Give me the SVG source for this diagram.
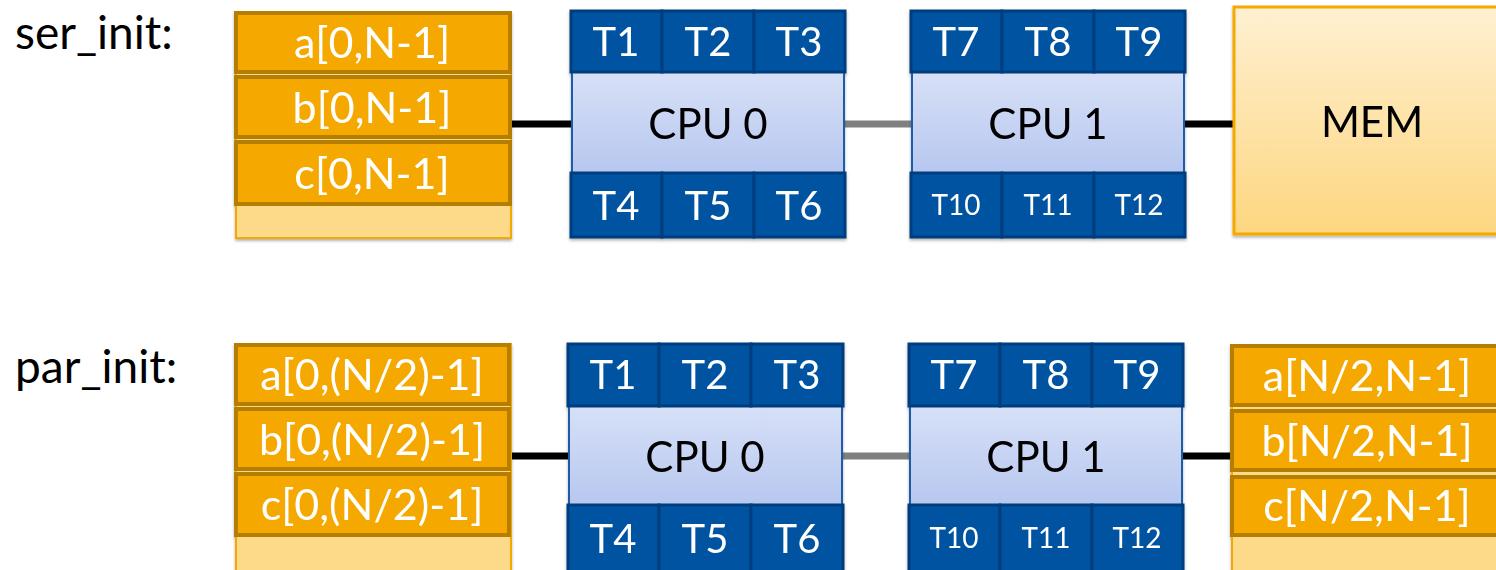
<svg xmlns="http://www.w3.org/2000/svg" width="1496" height="570" viewBox="0 0 1496 570">
<defs>
<linearGradient id="gCpu" x1="0" y1="0" x2="0" y2="1">
<stop offset="0" stop-color="#D7E0F7"/>
<stop offset="1" stop-color="#B7C7EF"/>
</linearGradient>
<linearGradient id="gMem" x1="0" y1="0" x2="0" y2="1">
<stop offset="0" stop-color="#FFF0D2"/>
<stop offset="1" stop-color="#FDD680"/>
</linearGradient>
<filter id="sh" x="-10%" y="-10%" width="120%" height="130%">
<feDropShadow dx="0" dy="2" stdDeviation="1.5" flood-color="#000" flood-opacity="0.3"/>
</filter>
</defs>
<style>
.lbl{font-family:Lato,"Liberation Sans",sans-serif;font-size:46px;fill:#000}
.th{fill:#0153A0;stroke:#003E7E;stroke-width:3}
.tt{font-family:Lato,"Liberation Sans",sans-serif;font-size:40px;fill:#fff;text-anchor:middle}
.ts{font-family:Lato,"Liberation Sans",sans-serif;font-size:28px;fill:#fff;text-anchor:middle}
.body{fill:url(#gCpu);stroke:#1F5BA8;stroke-width:2}
.ct{font-family:Lato,"Liberation Sans",sans-serif;font-size:42px;fill:#000;text-anchor:middle}
.mback{fill:#FDD98A;stroke:#F5A800;stroke-width:2}
.arr{fill:#F5A800;stroke:#B57E00;stroke-width:4}
.at{font-family:Lato,"Liberation Sans",sans-serif;font-size:43px;fill:#fff;text-anchor:middle}
.mem{fill:url(#gMem);stroke:#F5A800;stroke-width:3}
.bl{stroke:#000;stroke-width:7}
.gr{stroke:#808080;stroke-width:7}
</style>

<text class="lbl" x="15" y="49">ser_init:</text>
<text class="lbl" x="15" y="383">par_init:</text>

<g id="connectors">
<line class="bl" x1="511" y1="124" x2="572" y2="124"/>
<line class="gr" x1="845" y1="124" x2="911" y2="124"/>
<line class="bl" x1="1185" y1="124" x2="1234" y2="124"/>
<line class="bl" x1="510" y1="456" x2="569" y2="456"/>
<line class="gr" x1="843" y1="456" x2="909" y2="456"/>
<line class="bl" x1="1182" y1="456" x2="1231" y2="456"/>
</g>

<g id="ser_mem_local" filter="url(#sh)">
<rect class="mback" x="236" y="12" width="275" height="226"/>
<rect class="arr" x="236" y="13" width="274" height="59"/>
<rect class="arr" x="236" y="77" width="274" height="60"/>
<rect class="arr" x="236" y="142" width="274" height="62"/>
<text class="at" x="372" y="58">a[0,N-1]</text>
<text class="at" x="372" y="123">b[0,N-1]</text>
<text class="at" x="372" y="189">c[0,N-1]</text>
</g>

<g id="ser_cpu0" filter="url(#sh)">
<rect class="body" x="572" y="72" width="272" height="101"/>
<rect class="th" x="571" y="11" width="91" height="61"/>
<rect class="th" x="662" y="11" width="92" height="61"/>
<rect class="th" x="754" y="11" width="91" height="61"/>
<rect class="th" x="571" y="173" width="91" height="64"/>
<rect class="th" x="662" y="173" width="92" height="64"/>
<rect class="th" x="754" y="173" width="91" height="64"/>
<text class="tt" x="616" y="56">T1</text>
<text class="tt" x="708" y="56">T2</text>
<text class="tt" x="799" y="56">T3</text>
<text class="ct" x="708" y="139">CPU 0</text>
<text class="tt" x="616" y="220">T4</text>
<text class="tt" x="708" y="220">T5</text>
<text class="tt" x="799" y="220">T6</text>
</g>

<g id="ser_cpu1" filter="url(#sh)">
<rect class="body" x="912" y="72" width="272" height="101"/>
<rect class="th" x="911" y="11" width="91" height="61"/>
<rect class="th" x="1002" y="11" width="92" height="61"/>
<rect class="th" x="1094" y="11" width="91" height="61"/>
<rect class="th" x="911" y="173" width="91" height="64"/>
<rect class="th" x="1002" y="173" width="92" height="64"/>
<rect class="th" x="1094" y="173" width="91" height="64"/>
<text class="tt" x="956" y="56">T7</text>
<text class="tt" x="1048" y="56">T8</text>
<text class="tt" x="1139" y="56">T9</text>
<text class="ct" x="1048" y="139">CPU 1</text>
<text class="ts" x="956" y="215">T10</text>
<text class="ts" x="1048" y="215">T11</text>
<text class="ts" x="1139" y="215">T12</text>
</g>

<g id="ser_mem" filter="url(#sh)">
<rect class="mem" x="1234" y="7" width="270" height="227"/>
<text class="ct" x="1372" y="137">MEM</text>
</g>

<g id="par_mem_local" filter="url(#sh)">
<rect class="mback" x="236" y="344" width="275" height="240"/>
<rect class="arr" x="236" y="345" width="273" height="59"/>
<rect class="arr" x="236" y="409" width="273" height="60"/>
<rect class="arr" x="236" y="474" width="273" height="61"/>
<text class="at" x="372" y="390">a[0,(N/2)-1]</text>
<text class="at" x="372" y="455">b[0,(N/2)-1]</text>
<text class="at" x="372" y="520">c[0,(N/2)-1]</text>
</g>

<g id="par_cpu0" filter="url(#sh)">
<rect class="body" x="569" y="406" width="273" height="99"/>
<rect class="th" x="568" y="344" width="91" height="62"/>
<rect class="th" x="659" y="344" width="92" height="62"/>
<rect class="th" x="751" y="344" width="92" height="62"/>
<rect class="th" x="568" y="505" width="91" height="67"/>
<rect class="th" x="659" y="505" width="92" height="67"/>
<rect class="th" x="751" y="505" width="92" height="67"/>
<text class="tt" x="613" y="389">T1</text>
<text class="tt" x="705" y="389">T2</text>
<text class="tt" x="797" y="389">T3</text>
<text class="ct" x="705" y="472">CPU 0</text>
<text class="tt" x="613" y="553">T4</text>
<text class="tt" x="705" y="553">T5</text>
<text class="tt" x="797" y="553">T6</text>
</g>

<g id="par_cpu1" filter="url(#sh)">
<rect class="body" x="910" y="406" width="272" height="99"/>
<rect class="th" x="909" y="344" width="91" height="62"/>
<rect class="th" x="1000" y="344" width="92" height="62"/>
<rect class="th" x="1092" y="344" width="91" height="62"/>
<rect class="th" x="909" y="505" width="91" height="67"/>
<rect class="th" x="1000" y="505" width="92" height="67"/>
<rect class="th" x="1092" y="505" width="91" height="67"/>
<text class="tt" x="954" y="389">T7</text>
<text class="tt" x="1046" y="389">T8</text>
<text class="tt" x="1137" y="389">T9</text>
<text class="ct" x="1046" y="472">CPU 1</text>
<text class="ts" x="954" y="548">T10</text>
<text class="ts" x="1046" y="548">T11</text>
<text class="ts" x="1137" y="548">T12</text>
</g>

<g id="par_mem_remote" filter="url(#sh)">
<rect class="mback" x="1232" y="346" width="280" height="240"/>
<rect class="arr" x="1232" y="346" width="280" height="59"/>
<rect class="arr" x="1232" y="411" width="280" height="59"/>
<rect class="arr" x="1232" y="477" width="280" height="58"/>
<text class="at" x="1367" y="391">a[N/2,N-1]</text>
<text class="at" x="1367" y="456">b[N/2,N-1]</text>
<text class="at" x="1367" y="521">c[N/2,N-1]</text>
</g>
</svg>
